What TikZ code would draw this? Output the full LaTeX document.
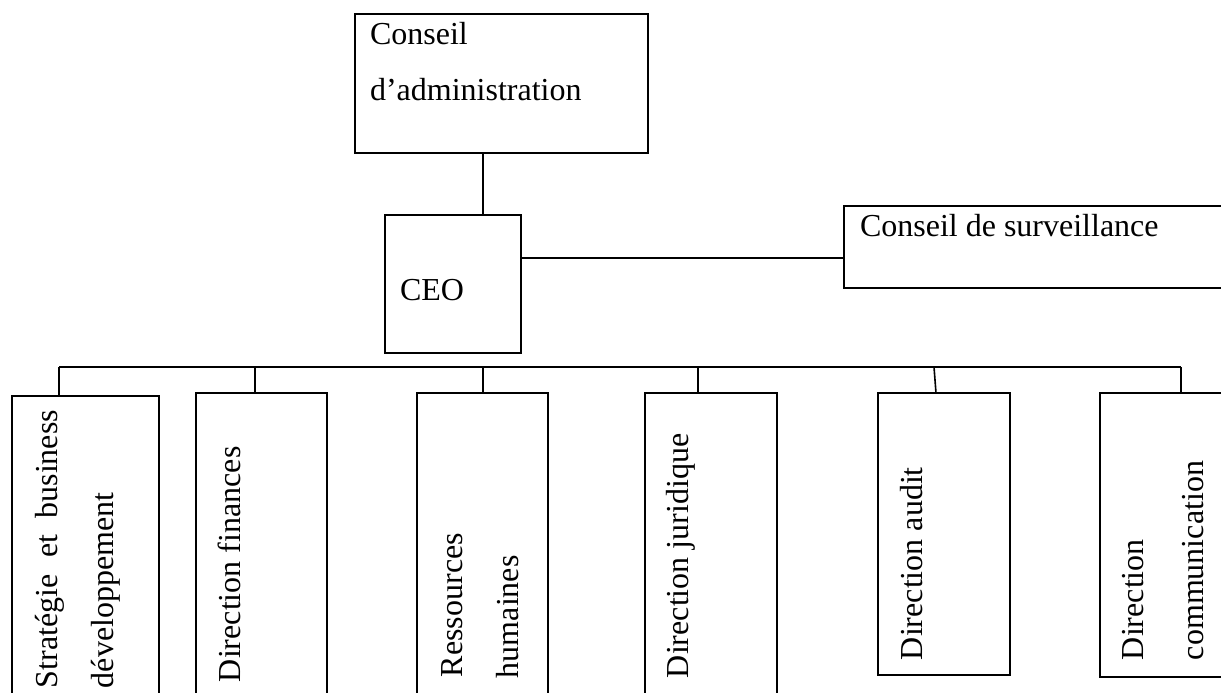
\documentclass[tikz,border=0pt]{standalone}
\usepackage{fontspec}
\setmainfont{Liberation Serif}
\begin{document}
\begin{tikzpicture}[x=1pt,y=-1pt,
  box/.style={draw,line width=2pt,inner sep=0pt,outer sep=0pt,anchor=north west},
  conn/.style={line width=1.6pt},
  txt/.style={inner sep=0pt,outer sep=0pt,anchor=base west,font=\fontsize{32}{38}\selectfont},
  vtxt/.style={txt,rotate=90}]
\useasboundingbox (0,0) rectangle (1221,693);
\clip (0,0) rectangle (1221,693);

% top boxes
\node[box,minimum width=293pt,minimum height=139pt] (adm) at (355,14) {};
\node[box,minimum width=136pt,minimum height=138pt] (ceo) at (385,215) {};
\node[box,minimum width=420pt,minimum height=82pt] (sur) at (844,206) {};

\node[txt] (adm1) at (370,45) {Conseil};
\node[txt] (adm2) at (370,100) {d’administration};
\node[txt] (ceot) at (400,300) {CEO};
\node[txt] (surt) at (860,236) {Conseil de surveillance};

% department boxes
\node[box,minimum width=147pt,minimum height=320pt] (b1) at (12,396) {};
\node[box,minimum width=131pt,minimum height=320pt] (b2) at (196,393) {};
\node[box,minimum width=131pt,minimum height=320pt] (b3) at (417,393) {};
\node[box,minimum width=132pt,minimum height=320pt] (b4) at (645,393) {};
\node[box,minimum width=132pt,minimum height=282pt] (b5) at (878,393) {};
\node[box,minimum width=150pt,minimum height=284pt] (b6) at (1100,393) {};

\node[vtxt] (t1a) at (57,688) {\makebox[278pt][s]{Stratégie et business}};
\node[vtxt] (t1b) at (113,688) {développement};
\node[vtxt] (t2) at (240,682) {Direction finances};
\node[vtxt] (t3a) at (462,677) {Ressources};
\node[vtxt] (t3b) at (518,678) {humaines};
\node[vtxt] (t4) at (688,678) {Direction juridique};
\node[vtxt] (t5) at (922,660) {Direction audit};
\node[vtxt] (t6a) at (1143,660) {Direction};
\node[vtxt] (t6b) at (1203,660) {communication};

% connectors
\coordinate (k) at (483,0);
\coordinate (h) at (0,258);
\draw[conn] (adm.south -| k) -- (ceo.north -| k);
\draw[conn] (ceo.east |- h) -- (sur.west |- h);

\coordinate (d1) at (59,367);
\coordinate (d2) at (255,367);
\coordinate (d3) at (483,367);
\coordinate (d4) at (698,367);
\coordinate (d5) at (934,367);
\coordinate (d6) at (1181,367);
\coordinate (e5) at (936,0);
\draw[conn] (d1) -- (d6);
\draw[conn] (d1) -- (d1 |- b1.north);
\draw[conn] (d2) -- (d2 |- b2.north);
\draw[conn] (d3) -- (d3 |- b3.north);
\draw[conn] (d4) -- (d4 |- b4.north);
\draw[conn] (d5) -- (e5 |- b5.north);
\draw[conn] (d6) -- (d6 |- b6.north);
\end{tikzpicture}
\end{document}
